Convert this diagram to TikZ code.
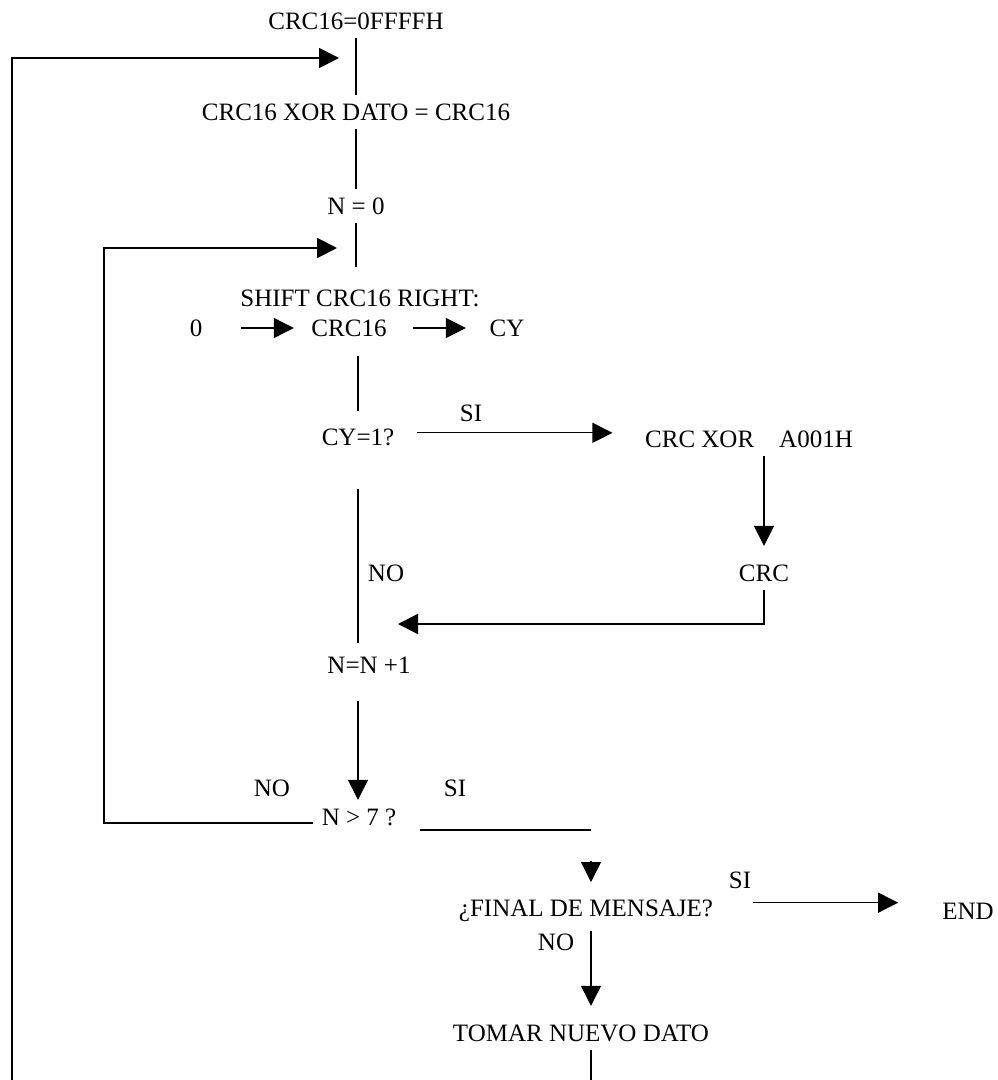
\documentclass[tikz,border=0pt]{standalone}
\usepackage{fontspec}
\setmainfont{Liberation Serif}
\usetikzlibrary{positioning, arrows.meta}

\tikzset{
  paso/.style={inner sep=4pt, font=\fontsize{12}{14}\selectfont},
  etiq/.style={inner sep=0pt, font=\fontsize{12}{14}\selectfont},
  linea/.style={line width=0.6pt},
  lazo/.style={line width=0.9pt},
  flecha/.style={linea, -{Triangle[length=9.6pt,width=9.6pt]}},
}

\begin{document}
\begin{tikzpicture}[x=0.48pt,y=-0.48pt]
	\useasboundingbox (0,0) rectangle (997,1080);
	
	\node[paso] (ini) at (356,21) {CRC16=0FFFFH};
	\node[paso] (xdat) at (356,112) {CRC16 XOR DATO = CRC16};
	\node[paso] (nzero) at (356,206) {N = 0};
	\node[paso] (shift) at (360,298) {SHIFT CRC16 RIGHT:};
	\node[paso] (zero) at (196,328) {0};
	\node[paso] (reg) at (349,328) {CRC16};
	\node[paso] (cy) at (507,328) {CY};
	\node[paso] (test) at (358,437) {CY=1?};
	\node[paso] (xora) at (749,439) {CRC XOR\quad A001H};
	\node[paso] (crc) at (764,573) {CRC};
	\node[paso] (inc) at (369,665) {N=N +1};
	\node[paso] (cnt) at (359,817) {N > 7 ?};
	\node[paso] (fin) at (586,911) {¿FINAL DE MENSAJE?};
	\node[paso] (fim) at (968,911) {END};
	\node[paso] (nuevo) at (581,1033) {TOMAR NUEVO DATO};
	
	% etiquetas
	\node[etiq] (si1) at (471,413) {SI};
	\node[etiq] (no1) at (386,573) {NO};
	\node[etiq] (no2) at (272,788) {NO};
	\node[etiq] (si2) at (455,788) {SI};
	\node[etiq] (si3) at (740,880) {SI};
	\node[etiq] (no3) at (556,942) {NO};
	
	% puntos de union
	\coordinate (j2) at (356,267);
	\coordinate (in1) at (339,58);
	\coordinate (in2) at (337,248);
	\coordinate (in3) at (398,624);
	\coordinate (lp1) at (12,1080);
	\coordinate (lp2) at (104,823);
	\coordinate (j5) at (591,830);
	\coordinate (h5) at (591,861);
	\coordinate (t5) at (591,882);
	\coordinate (out1) at (591,1080);
	
	\draw[linea] (ini) -- (xdat);
	\draw[linea] (xdat) -- (nzero);
	\draw[linea] (nzero) -- (j2);
	\draw[flecha, lazo] (lp1) |- (in1);
	\draw[flecha, lazo] (cnt.west |- lp2) -- (lp2) |- (in2);
	
	\draw[flecha, shorten <=14.4pt, shorten >=4.3pt] (zero) -- (reg);
	\draw[flecha, shorten <=8.6pt, shorten >=7.2pt] (reg) -- (cy);
	\draw[linea, shorten <=5pt, shorten >=4pt] (test |- reg.south) -- (test.north);
	
	\draw[flecha, shorten <=6.7pt, shorten >=11.5pt] ([yshift=2pt]test.east) -- ([yshift=2pt]test.east -| xora.west);
	\draw[flecha, shorten >=4.8pt] (crc |- xora.south) -- (crc.north);
	\draw[flecha, lazo] (crc.south) |- (in3);
	
	\draw[linea, shorten <=16.8pt, shorten >=2.4pt] (test.south) -- (test |- inc.north);
	\draw[flecha, shorten <=9pt] (test |- inc.south) -- (test |- cnt.north);
	
	\draw[lazo, shorten <=7pt] (cnt.east |- j5) -- (j5);
	\draw[flecha] (h5) -- (t5);
	
	\draw[flecha, shorten <=15pt, shorten >=17pt] ([yshift=4pt]fin.east) -- ([yshift=4pt]fim.west);
	\draw[flecha, shorten >=4.8pt] (fin.south -| j5) -- (nuevo.north -| j5);
	\draw[linea] (nuevo.south -| out1) -- (out1);
\end{tikzpicture}
\end{document}
